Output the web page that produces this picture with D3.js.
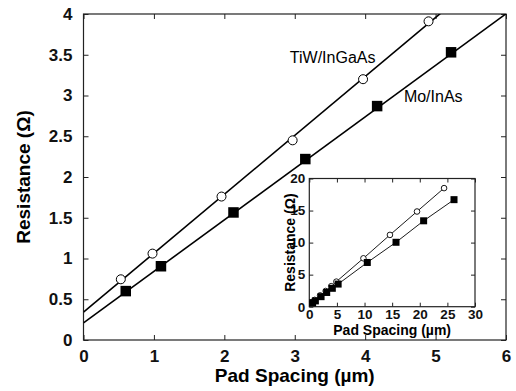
<!DOCTYPE html>
<html>
<head>
<meta charset="utf-8">
<script src="https://cdn.jsdelivr.net/npm/d3@7"></script>
<style>
  body { margin: 0; background: #fff; }
  text { font-family: Arial, "Liberation Sans", sans-serif; }
</style>
</head>
<body>
<div class="container"></div>
<script>
// main plot data (short pad spacings)
const tiwX = [0.53, 0.98, 1.96, 2.97, 3.97, 4.9]
const tiwR = [0.745, 1.06, 1.76, 2.45, 3.2, 3.91]
const moX = [0.6, 1.1, 2.13, 3.15, 4.17, 5.22]
const moR = [0.6, 0.905, 1.565, 2.22, 2.87, 3.53]

// linear fits drawn through the main plot
const fitNames = ["TiW/InGaAs", "Mo/InAs"]
const fitIntercept = [0.342, 0.21]
const fitSlope = [0.723, 0.632]

// extra long-spacing points shown in the inset
const tiwLongX = [9.8, 14.6, 19.5, 24.4]
const tiwLongR = [7.55, 11.2, 14.85, 18.5]
const moLongX = [10.5, 15.7, 20.7, 26.2]
const moLongR = [6.9, 10.05, 13.4, 16.7]

const xTicks = [0, 1, 2, 3, 4, 5, 6]
const yTicks = [0, 0.5, 1, 1.5, 2, 2.5, 3, 3.5, 4]
const xiTicks = [0, 5, 10, 15, 20, 25, 30]
const yiTicks = [0, 5, 10, 15, 20]

const width = 516, height = 391
const margin = ({ top: 14, right: 10, bottom: 51, left: 83.5 })

const svg = d3.select(".container").append("svg")
    .attr("width", width)
    .attr("height", height)
    .attr("viewBox", [0, 0, width, height])

const x = d3.scaleLinear().domain([0, 6]).range([margin.left, width - margin.right])
const y = d3.scaleLinear().domain([0, 4]).range([height - margin.bottom, margin.top])

const zip = (a, b) => a.map((v, i) => [v, b[i]])

// clip for fit lines
svg.append("clipPath").attr("id", "clip")
    .append("rect")
    .attr("x", x(0)).attr("y", y(4))
    .attr("width", x(6) - x(0)).attr("height", y(0) - y(4))

// axes (ticks pointing inward)
function axes(g, xs, ys, xt, yt, tick, fs, xpad, ypad) {
    const fmt = d => d3.format("~g")(d)
    g.append("g")
        .attr("transform", `translate(0,${ys.range()[0]})`)
        .call(d3.axisBottom(xs).tickValues(xt).tickSizeInner(-tick).tickSizeOuter(0).tickPadding(xpad).tickFormat(fmt))
    g.append("g")
        .attr("transform", `translate(0,${ys.range()[1]})`)
        .call(d3.axisTop(xs).tickValues(xt).tickSizeInner(-tick).tickSizeOuter(0).tickFormat(""))
    g.append("g")
        .attr("transform", `translate(${xs.range()[0]},0)`)
        .call(d3.axisLeft(ys).tickValues(yt).tickSizeInner(-tick).tickSizeOuter(0).tickPadding(ypad).tickFormat(fmt))
    g.append("g")
        .attr("transform", `translate(${xs.range()[1]},0)`)
        .call(d3.axisRight(ys).tickValues(yt).tickSizeInner(-tick).tickSizeOuter(0).tickFormat(""))
    g.selectAll(".domain").remove()
    g.selectAll(".tick line").attr("stroke", "#222")
    g.selectAll(".tick text")
        .attr("fill", "#111")
        .style("font-size", fs + "px")
        .style("font-weight", "bold")
    g.append("rect")
        .attr("x", xs.range()[0]).attr("y", ys.range()[1])
        .attr("width", xs.range()[1] - xs.range()[0])
        .attr("height", ys.range()[0] - ys.range()[1])
        .attr("fill", "none")
        .attr("stroke", "#222")
        .attr("stroke-width", 1.2)
}

const main = svg.append("g")
axes(main, x, y, xTicks, yTicks, 5, 17, 10, 11)

// fit lines
const fitLine = d3.line().x(d => x(d[0])).y(d => y(d[1]))
main.append("g")
    .attr("clip-path", "url(#clip)")
    .selectAll("path")
    .data(fitNames.map((n, i) => [0, 6].map(v => [v, fitIntercept[i] + fitSlope[i] * v])))
    .join("path")
    .attr("d", fitLine)
    .attr("fill", "none")
    .attr("stroke", "#000")
    .attr("stroke-width", 1.6)

// markers
main.append("g")
    .selectAll("circle")
    .data(zip(tiwX, tiwR))
    .join("circle")
    .attr("cx", d => x(d[0]))
    .attr("cy", d => y(d[1]))
    .attr("r", 4.5)
    .attr("fill", "#fff")
    .attr("stroke", "#000")
    .attr("stroke-width", 1)

const sq = 10.5
main.append("g")
    .selectAll("rect")
    .data(zip(moX, moR))
    .join("rect")
    .attr("x", d => x(d[0]) - sq / 2)
    .attr("y", d => y(d[1]) - sq / 2)
    .attr("width", sq)
    .attr("height", sq)
    .attr("fill", "#000")

// series labels
main.append("text")
    .attr("x", x(2.93)).attr("y", y(3.4))
    .style("font-size", "16px")
    .text(fitNames[0])
main.append("text")
    .attr("x", x(4.55)).attr("y", y(2.92))
    .style("font-size", "16px")
    .text(fitNames[1])

// axis titles
svg.append("text")
    .attr("x", (x(0) + x(6)) / 2)
    .attr("y", 382)
    .attr("text-anchor", "middle")
    .style("font-size", "19px")
    .style("font-weight", "bold")
    .text("Pad Spacing (µm)")
svg.append("text")
    .attr("transform", `translate(30,${(y(0) + y(4)) / 2}) rotate(-90)`)
    .attr("text-anchor", "middle")
    .style("font-size", "19px")
    .style("font-weight", "bold")
    .text("Resistance (Ω)")

// inset
const xi = d3.scaleLinear().domain([0, 30]).range([309.3, 475])
const yi = d3.scaleLinear().domain([0, 20]).range([306.7, 178.5])

const inset = svg.append("g")
inset.append("rect")
    .attr("x", xi(0)).attr("y", yi(20))
    .attr("width", xi(30) - xi(0)).attr("height", yi(0) - yi(20))
    .attr("fill", "#fff")
axes(inset, xi, yi, xiTicks, yiTicks, 4, 13.5, 2.5, 4)

const insetSeries = [
    { pts: zip(tiwX.concat(tiwLongX), tiwR.concat(tiwLongR)), shape: "circle" },
    { pts: zip(moX.concat(moLongX), moR.concat(moLongR)), shape: "square" }
]
const insetLine = d3.line().x(d => xi(d[0])).y(d => yi(d[1]))
inset.append("g")
    .selectAll("path")
    .data(insetSeries)
    .join("path")
    .attr("d", d => insetLine(d.pts))
    .attr("fill", "none")
    .attr("stroke", "#000")
    .attr("stroke-width", 0.9)

inset.append("g")
    .selectAll("circle")
    .data(insetSeries[0].pts)
    .join("circle")
    .attr("cx", d => xi(d[0]))
    .attr("cy", d => yi(d[1]))
    .attr("r", 2.8)
    .attr("fill", "#fff")
    .attr("stroke", "#000")
    .attr("stroke-width", 0.9)

const sqi = 7
inset.append("g")
    .selectAll("rect")
    .data(insetSeries[1].pts)
    .join("rect")
    .attr("x", d => xi(d[0]) - sqi / 2)
    .attr("y", d => yi(d[1]) - sqi / 2)
    .attr("width", sqi)
    .attr("height", sqi)
    .attr("fill", "#000")

inset.append("text")
    .attr("x", (xi(0) + xi(30)) / 2)
    .attr("y", 334.5)
    .attr("text-anchor", "middle")
    .style("font-size", "14px")
    .style("font-weight", "bold")
    .text("Pad Spacing (µm)")
inset.append("text")
    .attr("transform", `translate(295,${(yi(0) + yi(20)) / 2}) rotate(-90)`)
    .attr("text-anchor", "middle")
    .style("font-size", "14px")
    .style("font-weight", "bold")
    .text("Resistance (Ω)")
</script>
</body>
</html>
